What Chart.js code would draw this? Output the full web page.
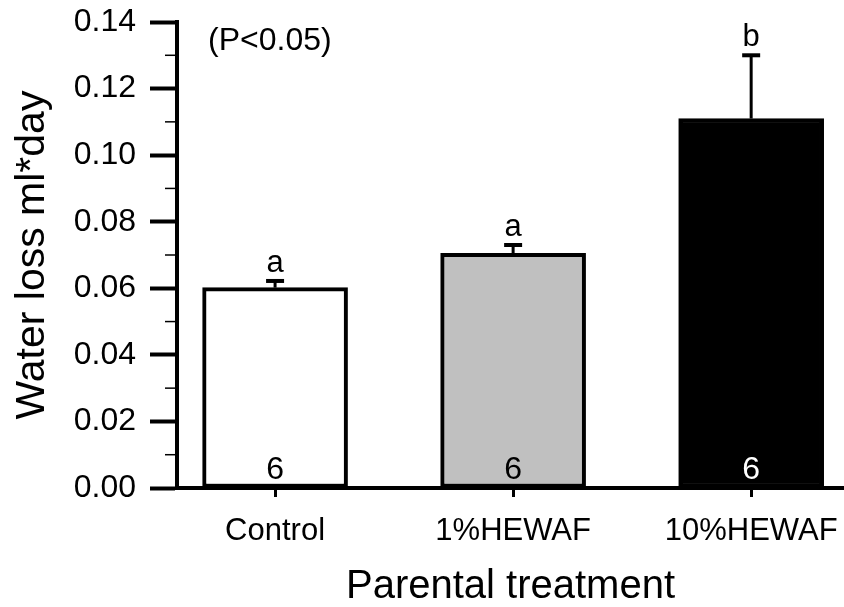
<!DOCTYPE html>
<html>
<head>
<meta charset="utf-8">
<title>Water loss by parental treatment</title>
<script src="https://cdn.jsdelivr.net/npm/chart.js@4"></script>
<style>
  html, body { margin: 0; padding: 0; background: #fff; }
  #wrap { width: 844px; height: 607px; }
</style>
</head>
<body>
<div id="wrap"><canvas id="lossChart" width="844" height="607"></canvas></div>
<script>
// treatment groups and measured water loss (mean + SE)
const treatments = ["Control", "1%HEWAF", "10%HEWAF"];
const waterLoss = [0.0602, 0.0705, 0.111];
const errorUp = [0.002, 0.0025, 0.019];
const groupLetters = ["a", "a", "b"];
const sampleSizes = [6, 6, 6];
const yTicks = [0, 0.02, 0.04, 0.06, 0.08, 0.10, 0.12, 0.14];
const barColors = ["#ffffff", "#c0c0c0", "#000000"];

const FONT = "'Liberation Sans', Arial, Helvetica, sans-serif";

// error bars, significance letters, n values, minor ticks
const extras = {
    id: "extras",
    afterDatasetsDraw(chart) {
        const ctx = chart.ctx;
        const xs = chart.scales.x;
        const ys = chart.scales.y;
        ctx.save();
        ctx.strokeStyle = "#000";
        ctx.lineCap = "butt";

        treatments.forEach((t, i) => {
            const x = xs.getPixelForValue(i + 1);
            const yMean = ys.getPixelForValue(waterLoss[i]);
            const yErr = ys.getPixelForValue(waterLoss[i] + errorUp[i]);

            ctx.lineWidth = 3;
            ctx.beginPath();
            ctx.moveTo(x, yMean);
            ctx.lineTo(x, yErr);
            ctx.stroke();

            ctx.lineWidth = 4;
            ctx.beginPath();
            ctx.moveTo(x - 9, yErr);
            ctx.lineTo(x + 9, yErr);
            ctx.stroke();

            ctx.fillStyle = "#000";
            ctx.font = "31px " + FONT;
            ctx.textAlign = "center";
            ctx.textBaseline = "alphabetic";
            ctx.fillText(groupLetters[i], x, yErr - 9);

            ctx.fillStyle = barColors[i] === "#000000" ? "#fff" : "#000";
            ctx.font = "32px " + FONT;
            ctx.fillText(String(sampleSizes[i]), x, ys.getPixelForValue(0) - 9);
        });

        // minor ticks between the labelled ones
        ctx.lineWidth = 1.5;
        const left = chart.chartArea.left;
        for (let k = 0; k < yTicks.length - 1; k++) {
            const y = ys.getPixelForValue((yTicks[k] + yTicks[k + 1]) / 2);
            ctx.beginPath();
            ctx.moveTo(left - 12, y);
            ctx.lineTo(left, y);
            ctx.stroke();
        }

        ctx.fillStyle = "#000";
        ctx.font = "32px " + FONT;
        ctx.textAlign = "left";
        ctx.fillText("(P<0.05)", 208, 50);
        ctx.restore();
    }
};

new Chart(document.getElementById("lossChart"), {
    type: "bar",
    data: {
        datasets: [{
            data: waterLoss.map((v, i) => ({ x: i + 1, y: v })),
            backgroundColor: barColors,
            borderColor: "#000",
            borderWidth: 4,
            borderSkipped: false,
            barThickness: 145
        }]
    },
    options: {
        responsive: false,
        animation: false,
        devicePixelRatio: 1,
        layout: { padding: { top: 22, right: 0, bottom: 0, left: 0 } },
        plugins: {
            legend: { display: false },
            tooltip: { enabled: false }
        },
        scales: {
            x: {
                type: "linear",
                offset: false,
                min: 0.588,
                max: 3.39,
                afterBuildTicks(scale) {
                    scale.ticks = treatments.map((t, i) => ({ value: i + 1 }));
                },
                afterFit(scale) {
                    scale.height = 119;
                    scale.paddingLeft = 0;
                    scale.paddingRight = 0;
                },
                ticks: {
                    callback: (v) => treatments[Math.round(v) - 1] || "",
                    color: "#000",
                    font: { family: FONT, size: 31 },
                    padding: 16,
                    maxRotation: 0,
                    autoSkip: false
                },
                grid: {
                    offset: false,
                    drawOnChartArea: false,
                    tickLength: 9,
                    tickWidth: 3,
                    tickColor: "#000"
                },
                border: { color: "#000", width: 4 },
                title: {
                    display: true,
                    text: "Parental treatment",
                    color: "#000",
                    font: { family: FONT, size: 40, lineHeight: 1 },
                    padding: 0
                }
            },
            y: {
                min: 0,
                max: 0.14,
                afterBuildTicks(scale) {
                    scale.ticks = yTicks.map(v => ({ value: v }));
                },
                afterFit(scale) {
                    scale.width = 177;
                    scale.paddingTop = 0;
                    scale.paddingBottom = 0;
                },
                ticks: {
                    callback: (v) => v.toFixed(2),
                    color: "#000",
                    font: { family: FONT, size: 32 },
                    padding: 14
                },
                grid: {
                    drawOnChartArea: false,
                    tickLength: 27,
                    tickWidth: 4,
                    tickColor: "#000"
                },
                border: { color: "#000", width: 4 },
                title: {
                    display: true,
                    text: "Water loss ml*day",
                    color: "#000",
                    font: { family: FONT, size: 41, lineHeight: 1 },
                    padding: { top: 12, bottom: 0 }
                }
            }
        }
    },
    plugins: [extras]
});
</script>
</body>
</html>
